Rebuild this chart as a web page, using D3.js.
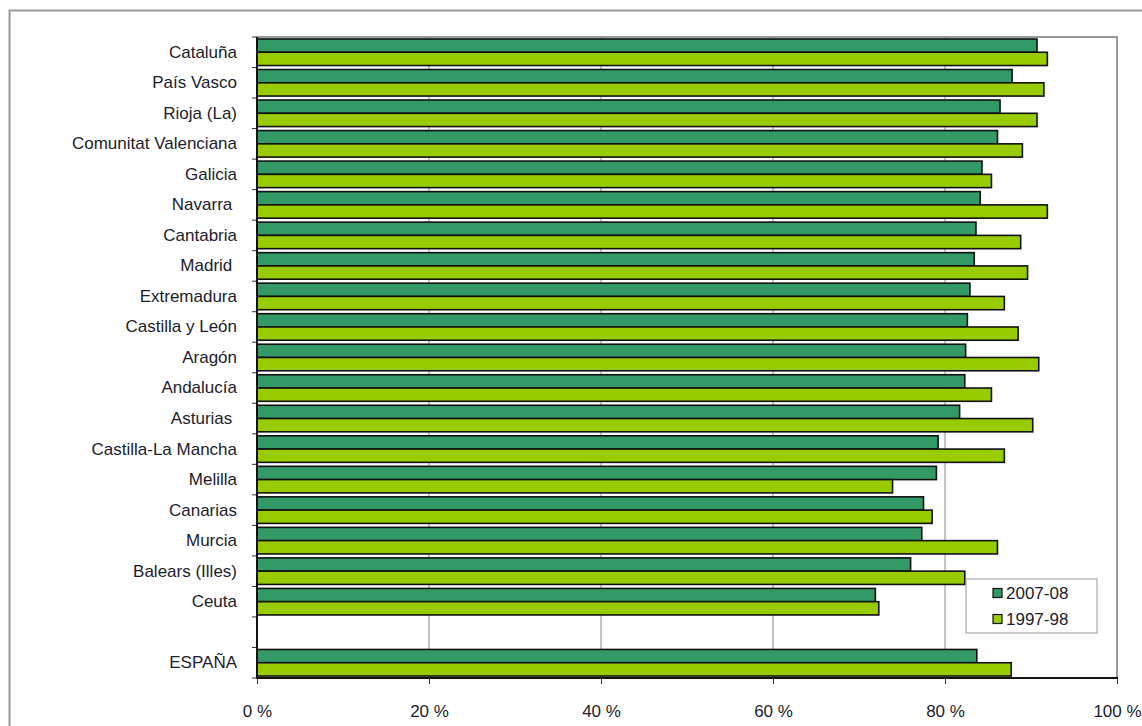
<!DOCTYPE html>
<html>
<head>
<meta charset="utf-8">
<script src="https://cdn.jsdelivr.net/npm/d3@7/dist/d3.min.js"></script>
<style>
  html, body { margin: 0; padding: 0; background: #fff; }
  svg { display: block; }
  text { font-family: "Liberation Sans", Arial, sans-serif; fill: #1c1c2c; }
</style>
</head>
<body>
<svg id="chart" width="1142" height="726"></svg>
<script>
// ---- Data ----
const categories = [
  "Cataluña", "País Vasco", "Rioja (La)", "Comunitat Valenciana", "Galicia",
  "Navarra ", "Cantabria", "Madrid ", "Extremadura", "Castilla y León",
  "Aragón", "Andalucía", "Asturias ", "Castilla-La Mancha", "Melilla",
  "Canarias", "Murcia", "Balears (Illes)", "Ceuta", "", "ESPAÑA"
];
const series2007 = [
  90.7, 87.8, 86.4, 86.1, 84.3, 84.1, 83.6, 83.4, 82.9, 82.6,
  82.4, 82.3, 81.7, 79.2, 79.0, 77.5, 77.3, 76.0, 71.9, null, 83.7
];
const series1997 = [
  91.9, 91.5, 90.7, 89.0, 85.4, 91.9, 88.8, 89.6, 86.9, 88.5,
  90.9, 85.4, 90.2, 86.9, 73.9, 78.5, 86.1, 82.3, 72.3, null, 87.7
];
const seriesNames = ["2007-08", "1997-98"];
const seriesColors = ["#339966", "#99cc00"];
const xTicks = [0, 20, 40, 60, 80, 100];

// ---- Layout ----
const FS = 17;
const svg = d3.select("#chart");
const plot = { left: 257, right: 1117, top: 37, bottom: 678 };

// outer frame
svg.append("path")
  .attr("d", `M9.5,730 V10.5 H1150`)
  .attr("fill", "none").attr("stroke", "#999").attr("stroke-width", 2);

const x = d3.scaleLinear().domain([0, 100]).range([plot.left, plot.right]);
const y = d3.scaleBand().domain(categories.map((c, i) => i))
  .range([plot.top, plot.bottom]).paddingInner(0).paddingOuter(0);
const sub = d3.scaleBand().domain([0, 1])
  .range([0, y.bandwidth()]).paddingOuter(0.15).paddingInner(0);

// plot area border (top/right gray)
svg.append("path")
  .attr("d", `M${plot.left},${plot.top} H${plot.right} V${plot.bottom}`)
  .attr("fill", "none").attr("stroke", "#999").attr("stroke-width", 2);

// gridlines
svg.append("g").selectAll("line").data(xTicks.filter(t => t > 0 && t < 100)).join("line")
  .attr("x1", d => x(d)).attr("x2", d => x(d))
  .attr("y1", plot.top).attr("y2", plot.bottom)
  .attr("stroke", "#8a8a8a").attr("stroke-width", 1);

// bars
const rows = categories.map((c, i) => ({ i, vals: [series2007[i], series1997[i]] }));
const gRows = svg.append("g").selectAll("g").data(rows).join("g")
  .attr("transform", d => `translate(0,${y(d.i)})`);
gRows.selectAll("rect").data(d => d.vals.map((v, s) => ({ v, s })).filter(e => e.v != null))
  .join("rect")
  .attr("x", x(0))
  .attr("y", d => sub(d.s))
  .attr("width", d => x(d.v) - x(0))
  .attr("height", sub.bandwidth())
  .attr("fill", d => seriesColors[d.s])
  .attr("stroke", "#111").attr("stroke-width", 1.6);

// y axis
const yAxis = d3.axisLeft(y).tickSize(0).tickFormat(i => categories[i]).tickPadding(20);
const gy = svg.append("g").attr("transform", `translate(${plot.left},0)`).call(yAxis);
gy.select(".domain").remove();
gy.selectAll("text").attr("font-size", FS).style("white-space", "pre").attr("fill", "#1c1c2c")
  .attr("font-family", "Liberation Sans, Arial, sans-serif");
// y tick marks at band boundaries
const bounds = d3.range(categories.length + 1).map(i => plot.top + i * y.step());
svg.append("g").selectAll("line").data(bounds).join("line")
  .attr("x1", plot.left - 5).attr("x2", plot.left)
  .attr("y1", d => d).attr("y2", d => d)
  .attr("stroke", "#333").attr("stroke-width", 1);
svg.append("line").attr("x1", plot.left).attr("x2", plot.left)
  .attr("y1", plot.top).attr("y2", plot.bottom + 1)
  .attr("stroke", "#111").attr("stroke-width", 2);

// x axis
const xAxis = d3.axisBottom(x).tickValues(xTicks).tickSize(6).tickPadding(21)
  .tickFormat(d => d + " %");
const gx = svg.append("g").attr("transform", `translate(0,${plot.bottom})`).call(xAxis);
gx.select(".domain").remove();
gx.selectAll("line").attr("stroke", "#333");
gx.selectAll("text").attr("font-size", FS).attr("fill", "#1c1c2c")
  .attr("font-family", "Liberation Sans, Arial, sans-serif");
svg.append("line").attr("x1", plot.left - 1).attr("x2", plot.right + 1)
  .attr("y1", plot.bottom).attr("y2", plot.bottom)
  .attr("stroke", "#111").attr("stroke-width", 2);

// legend
const lg = svg.append("g").attr("transform", "translate(966,579)");
lg.append("rect").attr("x", 0).attr("y", 0).attr("width", 131).attr("height", 54)
  .attr("fill", "#fff").attr("stroke", "#999").attr("stroke-width", 1);
seriesNames.forEach((name, s) => {
  const cy = 14 + s * 26;
  lg.append("rect").attr("x", 27).attr("y", cy - 4.5).attr("width", 9).attr("height", 9)
    .attr("fill", seriesColors[s]).attr("stroke", "#111").attr("stroke-width", 1.2);
  lg.append("text").attr("x", 40).attr("y", cy).attr("dy", "0.35em")
    .attr("font-size", FS).text(name);
});
</script>
</body>
</html>
